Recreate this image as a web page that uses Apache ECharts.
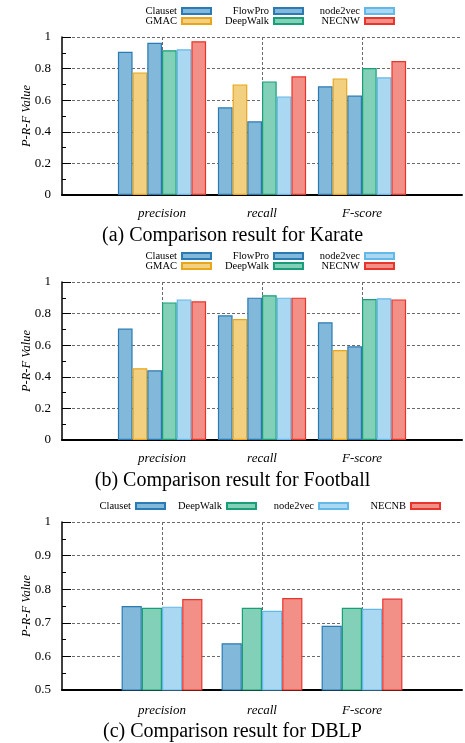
<!DOCTYPE html>
<html><head><meta charset="utf-8">
<script src="https://cdn.jsdelivr.net/npm/echarts@6/dist/echarts.min.js"></script>
<style>html,body{margin:0;padding:0;background:#fff}#c{width:465px;height:743px}</style>
</head><body><div id="c"></div>
<script>
// ---- data ----
const categories = ['precision', 'recall', 'F-score'];
const yTicksAB = [0, 0.2, 0.4, 0.6, 0.8, 1];
const yTicksC = [0.5, 0.6, 0.7, 0.8, 0.9, 1];

const karateMethods = ['Clauset', 'GMAC', 'FlowPro', 'DeepWalk', 'node2vec', 'NECNW'];
const karateClauset  = [0.907, 0.555, 0.688];
const karateGMAC     = [0.776, 0.700, 0.738];
const karateFlowPro  = [0.964, 0.466, 0.629];
const karateDeepWalk = [0.916, 0.719, 0.804];
const karateNode2vec = [0.922, 0.624, 0.745];
const karateNECNW    = [0.973, 0.751, 0.848];

const footballMethods = ['Clauset', 'GMAC', 'FlowPro', 'DeepWalk', 'node2vec', 'NECNW'];
const footballClauset  = [0.705, 0.789, 0.745];
const footballGMAC     = [0.454, 0.766, 0.570];
const footballFlowPro  = [0.441, 0.901, 0.593];
const footballDeepWalk = [0.871, 0.916, 0.892];
const footballNode2vec = [0.890, 0.901, 0.897];
const footballNECNW    = [0.878, 0.901, 0.890];

const dblpMethods = ['Clauset', 'DeepWalk', 'node2vec', 'NECNB'];
const dblpClauset  = [0.750, 0.639, 0.691];
const dblpDeepWalk = [0.745, 0.745, 0.745];
const dblpNode2vec = [0.748, 0.736, 0.742];
const dblpNECNB    = [0.771, 0.774, 0.772];

const titles = ['(a) Comparison result for Karate', '(b) Comparison result for Football', '(c) Comparison result for DBLP'];

// ---- styles ----
const FONT = 'Liberation Serif';
const styleOf = {
  Clauset:  {fill: '#82b8d9', stroke: '#2a7ab3'},
  FlowPro:  {fill: '#82b8d9', stroke: '#2a7ab3'},
  GMAC:     {fill: '#f2d080', stroke: '#e8a61c'},
  DeepWalk: {fill: '#82d0b8', stroke: '#1a9e78'},
  node2vec: {fill: '#aad8f3', stroke: '#62b8e8'},
  NECNW:    {fill: '#f28f86', stroke: '#e8352c'},
  NECNB:    {fill: '#f28f86', stroke: '#e8352c'}
};

const panels = [
  {methods: karateMethods, values: [karateClauset, karateGMAC, karateFlowPro, karateDeepWalk, karateNode2vec, karateNECNW],
   ticks: yTicksAB, top: 37, height: 158, barWidth: 14.7, titleTop: 226, labelMargin: 12,
   legend: [['Clauset', 212, 11], ['GMAC', 212, 21], ['FlowPro', 304, 11], ['DeepWalk', 304, 21], ['node2vec', 395, 11], ['NECNW', 395, 21]]},
  {methods: footballMethods, values: [footballClauset, footballGMAC, footballFlowPro, footballDeepWalk, footballNode2vec, footballNECNW],
   ticks: yTicksAB, top: 282, height: 158, barWidth: 14.7, titleTop: 471, labelMargin: 12,
   legend: [['Clauset', 212, 256], ['GMAC', 212, 266], ['FlowPro', 304, 256], ['DeepWalk', 304, 266], ['node2vec', 395, 256], ['NECNW', 395, 266]]},
  {methods: dblpMethods, values: [dblpClauset, dblpDeepWalk, dblpNode2vec, dblpNECNB],
   ticks: yTicksC, top: 522, height: 168, barWidth: 20.2, titleTop: 722, labelMargin: 14,
   legend: [['Clauset', 166, 506], ['DeepWalk', 257, 506], ['node2vec', 349, 506], ['NECNB', 441, 506]]}
];

const xCats = [''].concat(categories, ['']);
const grid = [], xAxis = [], yAxis = [], series = [], legend = [], title = [];
const lineStyleGrid = {color: '#6a6a6a', type: [3, 2], width: 1};

panels.forEach((p, i) => {
  grid.push({left: 62, right: 0, top: p.top, height: p.height});
  xAxis.push({
    type: 'category', gridIndex: i, data: xCats, boundaryGap: false,
    axisLine: {show: true, onZero: false, lineStyle: {color: '#000', width: 2}},
    axisTick: {show: false},
    axisLabel: {interval: 0, margin: p.labelMargin, color: '#000', fontFamily: FONT, fontStyle: 'italic', fontSize: 13},
    splitLine: {show: true, interval: (idx) => idx > 0 && idx < xCats.length - 1, lineStyle: lineStyleGrid}
  });
  const step = +(p.ticks[1] - p.ticks[0]).toFixed(2);
  yAxis.push({
    type: 'value', gridIndex: i, min: p.ticks[0], max: p.ticks[p.ticks.length - 1], interval: step,
    name: 'P-R-F Value', nameLocation: 'middle', nameGap: 29, nameMoveOverlap: false,
    nameTextStyle: {fontFamily: FONT, fontStyle: 'italic', fontSize: 12.5, color: '#000'},
    axisLine: {show: true, lineStyle: {color: '#000', width: 1.5}},
    axisTick: {show: true, inside: true, length: 9, lineStyle: {color: '#000', width: 1}},
    minorTick: {show: true, splitNumber: 2, length: 4, lineStyle: {color: '#000', width: 1}},
    axisLabel: {margin: 11, color: '#000', fontFamily: FONT, fontSize: 13,
      formatter: v => String(+v.toFixed(2))},
    splitLine: {show: true, lineStyle: lineStyleGrid}
  });
  p.methods.forEach((m, k) => {
    const s = styleOf[m];
    series.push({
      type: 'bar', name: m, xAxisIndex: i, yAxisIndex: i,
      barWidth: p.barWidth, barGap: '0%',
      itemStyle: {color: s.fill, borderColor: s.stroke, borderWidth: 1.2},
      emphasis: {disabled: true},
      data: ['-'].concat(p.values[k], ['-'])
    });
  });
  p.legend.forEach(([name, xr, cy]) => {
    legend.push({
      data: [name], align: 'right', orient: 'horizontal', right: 465 - xr, top: cy - 6, padding: 0,
      itemWidth: 29, itemHeight: 6, icon: 'rect', selectedMode: false,
      textStyle: {fontFamily: FONT, fontSize: 10.5, color: '#000', lineHeight: 12}
    });
  });
  title.push({
    text: titles[i], left: 'center', top: p.titleTop, padding: 0,
    textStyle: {fontFamily: FONT, fontSize: 20, fontWeight: 'normal', color: '#000'}
  });
});

const chart = echarts.init(document.getElementById('c'), null, {renderer: 'canvas'});
chart.setOption({animation: false, backgroundColor: '#fff', grid, xAxis, yAxis, series, legend, title});
</script></body></html>
